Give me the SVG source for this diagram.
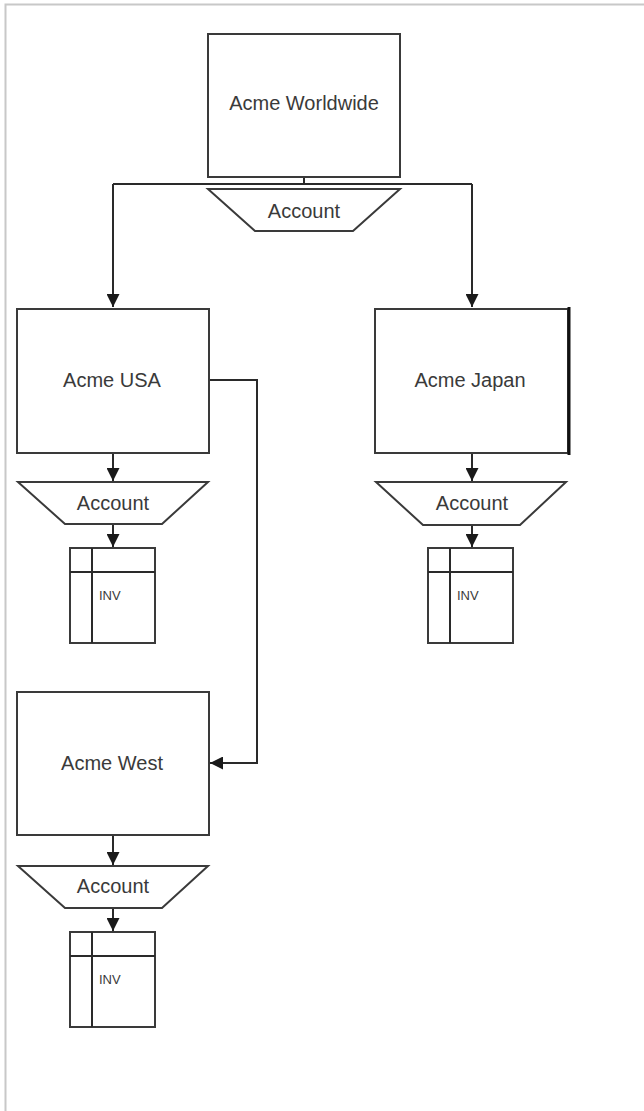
<svg xmlns="http://www.w3.org/2000/svg" width="644" height="1111" viewBox="0 0 644 1111">
<defs>
<style>
.box{fill:#fff;stroke:#3a3a3a;stroke-width:2}
.acct{fill:#fff;stroke:#3a3a3a;stroke-width:2}
.inv{fill:#fff;stroke:#3a3a3a;stroke-width:2}
.ln{fill:none;stroke:#2a2a2a;stroke-width:2}
.t{font-family:"Liberation Sans",Arial,sans-serif;font-size:20px;fill:#3a3a3a;text-anchor:middle}
.ti{font-family:"Liberation Sans",Arial,sans-serif;font-size:13px;fill:#3a3a3a}
</style>
<marker id="arr" viewBox="0 0 10 10" refX="10" refY="5" markerWidth="7" markerHeight="6.5" orient="auto" markerUnits="strokeWidth">
<path d="M0,0 L10,5 L0,10 Z" fill="#1a1a1a"/>
</marker>
</defs>
<rect width="644" height="1111" fill="#fff"/>
<path d="M5.5,1111 V4.5 H644" fill="none" stroke="#c8c8c8" stroke-width="2"/>

<g id="connectors">
<path class="ln" d="M304,184 V177"/>
<path class="ln" d="M113,184 H472"/>
<path class="ln" d="M113,184 V307" marker-end="url(#arr)"/>
<path class="ln" d="M472,184 V307" marker-end="url(#arr)"/>
<path class="ln" d="M113,453 V481" marker-end="url(#arr)"/>
<path class="ln" d="M113,524 V547" marker-end="url(#arr)"/>
<path class="ln" d="M472,453 V481" marker-end="url(#arr)"/>
<path class="ln" d="M472,525 V547" marker-end="url(#arr)"/>
<path class="ln" d="M209,380 H257 V763 H210" marker-end="url(#arr)"/>
<path class="ln" d="M113,835 V865" marker-end="url(#arr)"/>
<path class="ln" d="M113,908 V931" marker-end="url(#arr)"/>
</g>

<g id="acme-worldwide">
<rect class="box" x="208" y="34" width="192" height="143"/>
<text class="t" x="304" y="110">Acme Worldwide</text>
</g>
<g id="account-worldwide">
<polygon class="acct" points="208,189 400,189 353,231 255,231"/>
<text class="t" x="304" y="218">Account</text>
</g>

<g id="acme-usa">
<rect class="box" x="17" y="309" width="192" height="144"/>
<text class="t" x="112" y="387">Acme USA</text>
</g>
<g id="account-usa">
<polygon class="acct" points="18,482 208,482 162,524 65,524"/>
<text class="t" x="113" y="510">Account</text>
</g>
<g id="inv-usa">
<rect class="inv" x="70" y="548" width="85" height="95"/>
<path class="ln" d="M92,548 V643 M70,572 H155"/>
<text class="ti" x="99" y="600">INV</text>
</g>

<g id="acme-japan">
<rect class="box" x="375" y="309" width="193" height="144"/>
<path d="M569,307 V455" stroke="#111" stroke-width="3"/>
<text class="t" x="470" y="387">Acme Japan</text>
</g>
<g id="account-japan">
<polygon class="acct" points="376,482 566,482 520,525 423,525"/>
<text class="t" x="472" y="510">Account</text>
</g>
<g id="inv-japan">
<rect class="inv" x="428" y="548" width="85" height="95"/>
<path class="ln" d="M450,548 V643 M428,572 H513"/>
<text class="ti" x="457" y="600">INV</text>
</g>

<g id="acme-west">
<rect class="box" x="17" y="692" width="192" height="143"/>
<text class="t" x="112" y="770">Acme West</text>
</g>
<g id="account-west">
<polygon class="acct" points="18,866 208,866 162,908 65,908"/>
<text class="t" x="113" y="893">Account</text>
</g>
<g id="inv-west">
<rect class="inv" x="70" y="932" width="85" height="95"/>
<path class="ln" d="M92,932 V1027 M70,956 H155"/>
<text class="ti" x="99" y="984">INV</text>
</g>
</svg>
